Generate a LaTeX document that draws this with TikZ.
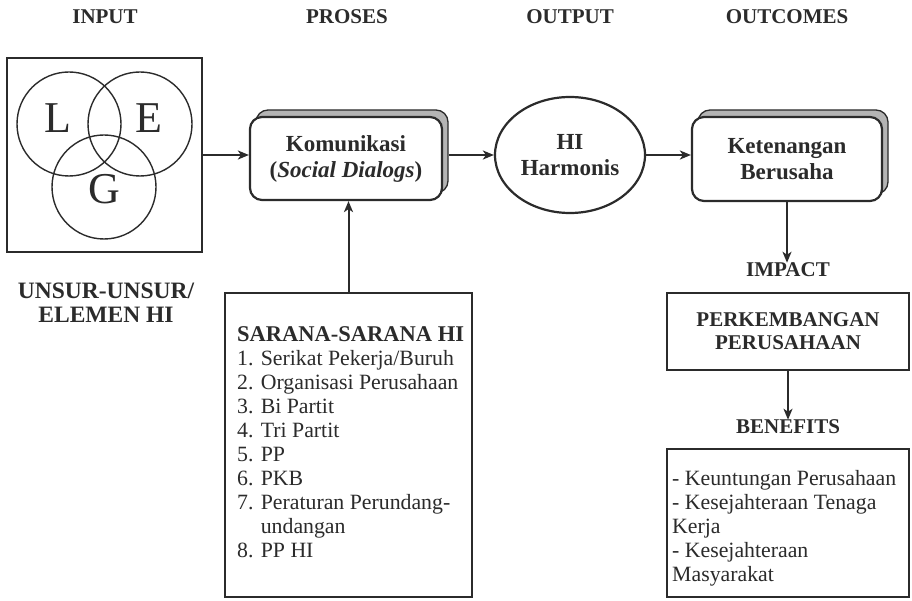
\documentclass[tikz,border=0pt]{standalone}
\usepackage{fontspec}
\setmainfont{Liberation Serif}
\usetikzlibrary{arrows.meta,shapes.geometric,calc}

\definecolor{ink}{HTML}{2B2B2B}
\definecolor{cardgray}{HTML}{B4B4B4}

\begin{document}
\begin{tikzpicture}[x=1pt,y=-1pt,
  every node/.style={text=ink, inner sep=0pt},
  txt/.style={font=\fontsize{21.8}{24}\selectfont},
  bold/.style={font=\fontsize{21}{24}\selectfont\bfseries},
  label/.style={font=\fontsize{23.5}{24}\selectfont\bfseries, align=center},
  cardtext/.style={font=\fontsize{23}{26}\selectfont\bfseries, align=center},
  letter/.style={font=\fontsize{44}{44}\selectfont},
  frame/.style={draw=ink, line width=2.2pt, fill=white},
  ring/.style={circle, draw=ink, line width=1.4pt, minimum size=104pt},
  card/.style={draw=ink, line width=2.2pt, rounded corners=12pt, fill=white},
  cardback/.style={draw=ink, line width=1.3pt, rounded corners=12pt, fill=cardgray},
  arr/.style={draw=ink, line width=2pt, -{Stealth[length=11pt,width=9pt,inset=3pt]}},
]
\useasboundingbox (0,0) rectangle (912,601);

% column headings
\node[bold] (hin)  at (105,17) {INPUT};
\node[bold] (hpro) at (347,17) {PROSES};
\node[bold] (hout) at (570,17) {OUTPUT};
\node[bold] (hoc)  at (787,17) {OUTCOMES};

% input: the three overlapping elements
\node[frame, minimum width=195pt, minimum height=194pt] (inbox) at (104.5,155) {};
\node[ring] (cl) at (69,124) {};
\node[ring] (ce) at (140,124) {};
\node[ring] (cg) at (104,187) {};
\node[letter] (tl) at (58,118) {L};
\node[letter] (te) at (149,118) {E};
\node[letter] (tg) at (104,189) {G};
\node[label] (unsur) at (106,303) {UNSUR-UNSUR/\\ELEMEN HI};

% process card
\node[cardback, minimum width=192pt, minimum height=83pt] (komb) at (352,151.5) {};
\node[card, cardtext, minimum width=192pt, minimum height=83pt] (kom) at (346,158.5)
  {Komunikasi\\(\textit{Social Dialogs})};

% output ellipse
\node[ellipse, draw=ink, line width=2.2pt, fill=white, minimum width=150pt,
      minimum height=116pt, cardtext] (hh) at (570,155) {HI\\Harmonis};

% outcome card
\node[cardback, minimum width=190pt, minimum height=84pt] (ktb) at (793,152) {};
\node[card, cardtext, minimum width=190pt, minimum height=84pt] (kt) at (787,159)
  {Ketenangan\\Berusaha};

% means of industrial relations
\node[frame, minimum width=247pt, minimum height=304pt] (sar) at (348.5,445) {};
\node[txt, align=left, anchor=north west] (sarlist) at (237,326)
  {{\fontsize{22.5}{24}\selectfont\bfseries SARANA-SARANA HI}\\
   1. Serikat Pekerja/Buruh\\
   2. Organisasi Perusahaan\\
   3. Bi Partit\\
   4. Tri Partit\\
   5. PP\\
   6. PKB\\
   7. Peraturan Perundang-\\
   \hphantom{7. }undangan\\
   8. PP HI};

% impact and benefits
\node[bold] (impact) at (788,270) {IMPACT};
\node[frame, font=\fontsize{21}{23}\selectfont\bfseries, align=center,
      minimum width=242pt, minimum height=77pt] (perk) at (788,331.5)
  {PERKEMBANGAN\\PERUSAHAAN};
\node[bold] (benef) at (788,427) {BENEFITS};
\node[frame, minimum width=242pt, minimum height=148pt] (bbox) at (788,523) {};
\node[txt, align=left, anchor=north west] (blist) at (672,470)
  {- Keuntungan Perusahaan\\
   - Kesejahteraan Tenaga\\
   Kerja\\
   - Kesejahteraan\\
   Masyarakat};

% connectors
\draw[arr] (inbox.east) -- (inbox.east -| kom.west);
\draw[arr] (komb.east |- hh.west) -- (hh.west);
\draw[arr] (hh.east) -- (hh.east -| kt.west);
\draw[arr] (sar.north) -- (sar.north |- kom.south);
\draw[arr] (kt.south) -- (kt.south |- impact.north);
\draw[arr] (perk.south) -- (perk.south |- benef.north);
\end{tikzpicture}
\end{document}
